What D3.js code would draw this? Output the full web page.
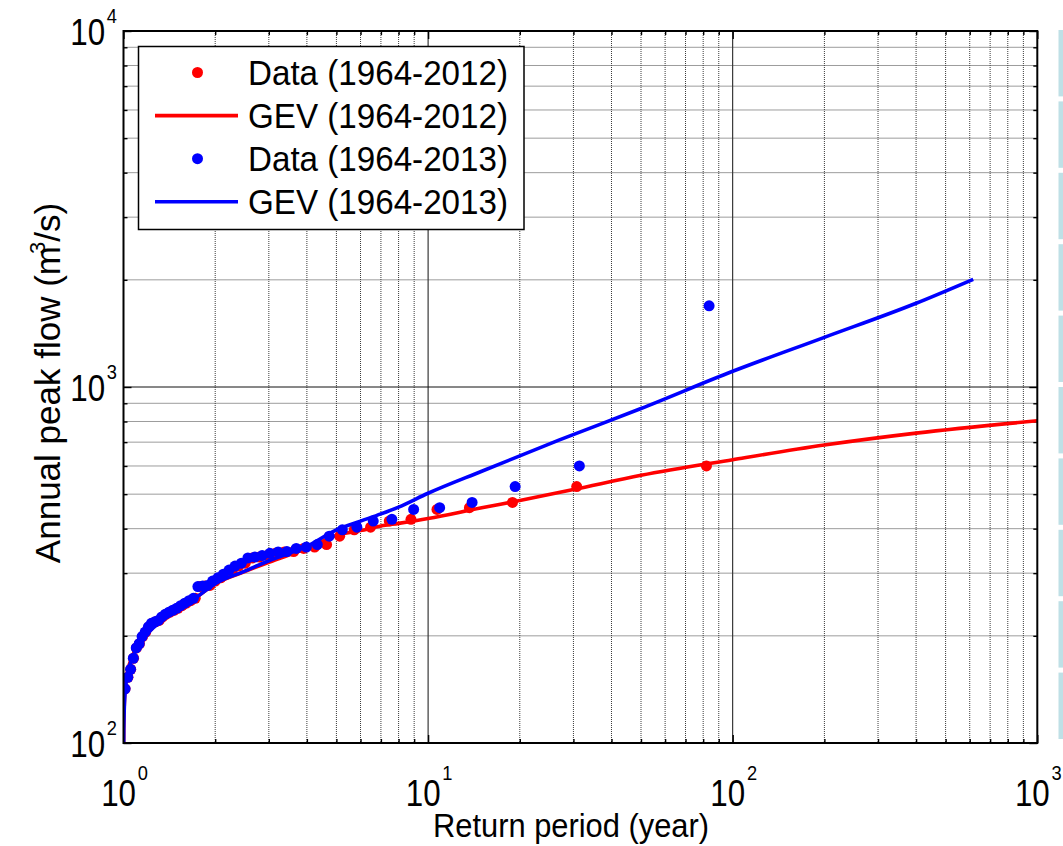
<!DOCTYPE html>
<html>
<head>
<meta charset="utf-8">
<script src="https://cdn.jsdelivr.net/npm/d3@7"></script>
<style>
  html, body { margin: 0; padding: 0; background: #fff; }
  svg { display: block; font-family: "Liberation Sans", Arial, sans-serif; }
</style>
</head>
<body>
<svg id="chart" width="1063" height="846"></svg>
<script>
// Annual peak flow: sorted observations with plotting-position return periods
// and the fitted GEV quantile curves for two record lengths.

// Data (1964-2012), ranked from largest to smallest
const periods2012 = [82.000, 30.750, 18.923, 13.667, 10.696, 8.786, 7.455, 6.474, 5.721, 5.125,
  4.642, 4.241, 3.905, 3.618, 3.370, 3.154, 2.964, 2.795, 2.645, 2.510,
  2.388, 2.278, 2.177, 2.085, 2.000, 1.922, 1.850, 1.783, 1.720, 1.662,
  1.608, 1.557, 1.509, 1.464, 1.422, 1.382, 1.344, 1.309, 1.275, 1.242,
  1.212, 1.183, 1.155, 1.128, 1.103, 1.079, 1.056, 1.034, 1.012];
const flows2012 = [600, 525, 474, 458, 453, 425, 420, 404, 397, 381,
  361, 355, 352, 345, 344, 341, 336, 333, 331, 320,
  314, 306, 298, 291, 285, 277, 276, 275, 255, 251,
  247, 243, 239, 236, 233, 230, 226, 221, 219, 217,
  212, 205, 199, 190, 185, 173, 161, 153, 142];

// Data (1964-2013), ranked from largest to smallest
const periods2013 = [83.667, 31.375, 19.308, 13.944, 10.913, 8.964, 7.606, 6.605, 5.837, 5.229,
  4.736, 4.328, 3.984, 3.691, 3.438, 3.218, 3.024, 2.852, 2.699, 2.561,
  2.437, 2.324, 2.221, 2.127, 2.041, 1.961, 1.887, 1.819, 1.755, 1.696,
  1.641, 1.589, 1.540, 1.494, 1.451, 1.410, 1.372, 1.335, 1.301, 1.268,
  1.236, 1.207, 1.178, 1.151, 1.126, 1.101, 1.077, 1.055, 1.033, 1.012];
const flows2013 = [1690, 600, 525, 474, 458, 453, 425, 420, 404, 397,
  381, 361, 355, 352, 345, 344, 341, 336, 333, 331,
  320, 314, 306, 298, 291, 285, 277, 276, 275, 255,
  251, 247, 243, 239, 236, 233, 230, 226, 221, 219,
  217, 212, 205, 199, 190, 185, 173, 161, 153, 142];

// GEV (1964-2012) quantile curve
const gevPeriods2012 = [1.0001, 1.002, 1.01, 1.03, 1.06, 1.1, 1.2, 1.35, 1.5, 1.75, 2, 2.5, 3, 4, 5, 6, 7, 8, 10, 15, 20, 30, 50, 100, 200, 400, 1000];
const gevFlows2012   = [80, 110, 138, 158, 172, 185, 205, 224, 238, 258, 280, 303, 322, 352, 383, 395, 407, 414, 427, 458, 480, 515, 565, 625, 687, 742, 804];

// GEV (1964-2013) quantile curve
const gevPeriods2013 = [1.0001, 1.002, 1.01, 1.03, 1.06, 1.1, 1.2, 1.35, 1.5, 1.75, 2, 2.5, 3, 4, 5, 6, 7, 8, 10, 15, 27, 50, 100, 200, 400, 616];
const gevFlows2013   = [80, 108, 135, 156, 170, 183, 203, 222, 237, 258, 280, 304, 325, 357, 397, 420, 440, 460, 503, 580, 710, 870, 1107, 1379, 1719, 2007];

// Axis decades and legend
const xDecades = [0, 1, 2, 3];
const yDecades = [2, 3, 4];
const legendLabels = ["Data (1964-2012)", "GEV (1964-2012)", "Data (1964-2013)", "GEV (1964-2013)"];

const RED = "#ff0000", BLUE = "#0000ff";
const DOT_R = 5.5, LINE_W = 3.6;

const svg = d3.select("#chart");
const plot = { left: 123.5, right: 1037.3, top: 31, bottom: 743 };

const x = d3.scaleLog().domain([1, 1000]).range([plot.left, plot.right]);
const y = d3.scaleLog().domain([100, 10000]).range([plot.bottom, plot.top]);

// minor and major grid positions
function logValues(lo, hi) {
  const out = [];
  for (let d = lo; d < hi; d *= 10) for (let m = 1; m < 10; m++) out.push(d * m);
  out.push(hi);
  return out;
}
const xAll = logValues(1, 1000);
const yAll = logValues(100, 10000);
const isMajor = v => Math.abs(Math.log10(v) - Math.round(Math.log10(v))) < 1e-9;

svg.append("defs").append("clipPath").attr("id", "plotClip")
  .append("rect").attr("x", plot.left).attr("y", plot.top)
  .attr("width", plot.right - plot.left).attr("height", plot.bottom - plot.top);

// grid
const grid = svg.append("g");
grid.selectAll("line.gx").data(xAll.filter(v => v > 1 && v < 1000)).join("line")
  .attr("x1", d => x(d)).attr("x2", d => x(d))
  .attr("y1", plot.top).attr("y2", plot.bottom)
  .attr("stroke", d => isMajor(d) ? "#111" : "#3a3a3a")
  .attr("stroke-width", 1)
  .attr("stroke-dasharray", d => isMajor(d) ? null : "1,1");
grid.selectAll("line.gy").data(yAll.filter(v => v > 100 && v < 10000)).join("line")
  .attr("y1", d => y(d)).attr("y2", d => y(d))
  .attr("x1", plot.left).attr("x2", plot.right)
  .attr("stroke", d => isMajor(d) ? "#111" : "#3a3a3a")
  .attr("stroke-width", 1)
  .attr("stroke-dasharray", d => isMajor(d) ? null : "1,1");

// inward ticks on all four sides
function tickAxis(axisFn, scale, values, size, transform) {
  const g = svg.append("g").attr("transform", transform)
    .call(axisFn(scale).tickValues(values).tickSize(size).tickFormat(""));
  g.select(".domain").remove();
  g.selectAll(".tick line").attr("stroke", "#000").attr("stroke-width", 1.4);
}
const xMaj = xAll.filter(isMajor), xMin = xAll.filter(v => !isMajor(v));
const yMaj = yAll.filter(isMajor), yMin = yAll.filter(v => !isMajor(v));
tickAxis(d3.axisBottom, x, xMaj, -8, `translate(0,${plot.bottom})`);
tickAxis(d3.axisBottom, x, xMin, -4, `translate(0,${plot.bottom})`);
tickAxis(d3.axisTop, x, xMaj, -8, `translate(0,${plot.top})`);
tickAxis(d3.axisTop, x, xMin, -4, `translate(0,${plot.top})`);
tickAxis(d3.axisLeft, y, yMaj, -8, `translate(${plot.left},0)`);
tickAxis(d3.axisLeft, y, yMin, -4, `translate(${plot.left},0)`);
tickAxis(d3.axisRight, y, yMaj, -8, `translate(${plot.right},0)`);
tickAxis(d3.axisRight, y, yMin, -4, `translate(${plot.right},0)`);

// data layers
const layer = svg.append("g").attr("clip-path", "url(#plotClip)");
const line = d3.line().x(d => x(d[0])).y(d => y(d[1])).curve(d3.curveMonotoneX);

function dots(periods, flows, color) {
  layer.append("g").selectAll("circle").data(d3.zip(periods, flows)).join("circle")
    .attr("cx", d => x(d[0])).attr("cy", d => y(d[1])).attr("r", DOT_R).attr("fill", color);
}
function curve(periods, flows, color) {
  layer.append("path").datum(d3.zip(periods, flows))
    .attr("d", line).attr("fill", "none").attr("stroke", color)
    .attr("stroke-width", LINE_W).attr("stroke-linejoin", "round");
}
dots(periods2012, flows2012, RED);
curve(gevPeriods2012, gevFlows2012, RED);
dots(periods2013, flows2013, BLUE);
curve(gevPeriods2013, gevFlows2013, BLUE);

// axes box
svg.append("rect").attr("x", plot.left).attr("y", plot.top)
  .attr("width", plot.right - plot.left).attr("height", plot.bottom - plot.top)
  .attr("fill", "none").attr("stroke", "#000").attr("stroke-width", 2);

// tick labels: "10" with a raised exponent, slightly condensed
const LAB_SIZE = 36, SUP_SIZE = 21, SQUEEZE = 0.87;
function powerLabel(g, px, py, anchor, exponent, rise) {
  const t = g.append("text")
    .attr("transform", `translate(${px},${py}) scale(${SQUEEZE},1)`)
    .attr("text-anchor", anchor).attr("font-size", LAB_SIZE);
  t.append("tspan").text("10");
  t.append("tspan").attr("font-size", SUP_SIZE).attr("dx", 2).attr("dy", -rise).text(exponent);
}
const xLab = svg.append("g").attr("fill", "#000");
xDecades.forEach(e => powerLabel(xLab, x(Math.pow(10, e)) + 1, 806, "middle", e, 26));
const yLab = svg.append("g").attr("fill", "#000");
yDecades.forEach(e => powerLabel(yLab, 117, y(Math.pow(10, e)) + 14, "end", e, 22));

// axis titles
svg.append("text").attr("x", 571).attr("y", 837).attr("text-anchor", "middle")
  .attr("font-size", 34).attr("textLength", 276).attr("lengthAdjust", "spacingAndGlyphs")
  .text("Return period (year)");
const yt = svg.append("text").attr("transform", "translate(60,383) rotate(-90)")
  .attr("text-anchor", "middle").attr("font-size", 35);
yt.append("tspan").text("Annual peak flow (m");
yt.append("tspan").attr("font-size", 22).attr("dy", -15).attr("dx", -8).text("3");
yt.append("tspan").attr("dy", 15).text("/s)");

// legend
const lg = svg.append("g");
lg.append("rect").attr("x", 138.5).attr("y", 46.5).attr("width", 385.5).attr("height", 183)
  .attr("fill", "#fff").attr("stroke", "#000").attr("stroke-width", 1.5);
const rows = [
  { kind: "dot", color: RED }, { kind: "line", color: RED },
  { kind: "dot", color: BLUE }, { kind: "line", color: BLUE }
];
rows.forEach((r, i) => {
  const cy = 72.5 + i * 43.1;
  if (r.kind === "dot") {
    lg.append("circle").attr("cx", 197.5).attr("cy", cy).attr("r", DOT_R).attr("fill", r.color);
  } else {
    lg.append("line").attr("x1", 155).attr("x2", 238).attr("y1", cy).attr("y2", cy)
      .attr("stroke", r.color).attr("stroke-width", LINE_W);
  }
  lg.append("text").attr("x", 248).attr("y", cy + 12.5).attr("font-size", 35)
    .attr("textLength", 260).attr("lengthAdjust", "spacingAndGlyphs")
    .text(legendLabels[i]);
});

// pale panel strip along the right edge
const strip = svg.append("g");
const stripTop = 28, stripBottom = 742, nBoxes = 10;
const boxH = (stripBottom - stripTop) / nBoxes;
d3.range(nBoxes).forEach(i => {
  strip.append("rect").attr("x", 1058.5).attr("y", stripTop + i * boxH + 2)
    .attr("width", 6).attr("height", boxH - 5).attr("fill", "#bfe0e6");
});
</script>
</body>
</html>
